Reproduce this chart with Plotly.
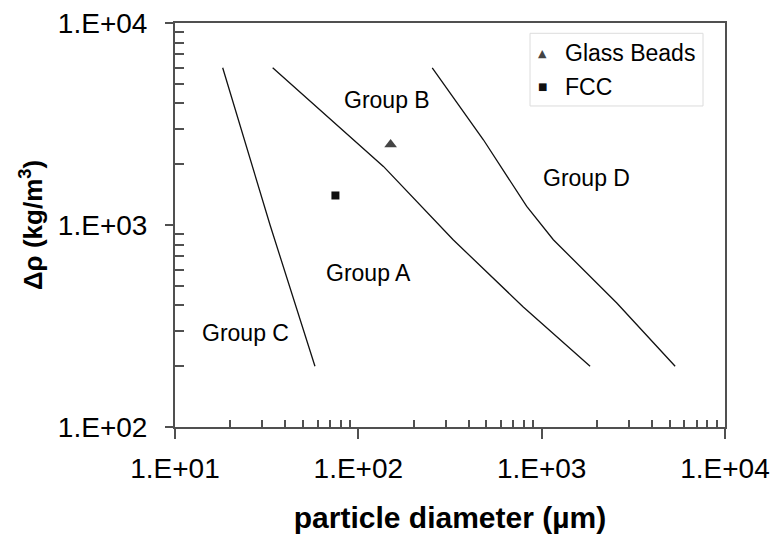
import math
import plotly.graph_objects as go

# Geldart powder classification: boundaries between groups
# (particle diameter in µm, density difference in kg/m3)
c_boundary_dp = [18.2, 33, 58]
c_boundary_rho = [6000, 1000, 200]

ab_boundary_dp = [34.1, 137, 329, 791, 1837]
ab_boundary_rho = [6000, 1950, 845, 394, 200]

bd_boundary_dp = [253, 481, 829, 1158, 2569, 5346]
bd_boundary_rho = [6000, 2642, 1236, 845, 411, 200]

# Measured powders
glass_dp = [150]
glass_rho = [2500]
fcc_dp = [75]
fcc_rho = [1400]

# Region labels
group_names = ["Group A", "Group B", "Group C", "Group D"]
group_dp = [113, 143, 24.1, 1746]
group_rho = [578, 4169, 292, 1710]

x_tickvals = [10, 100, 1000, 10000]
x_ticktext = ["1.E+01", "1.E+02", "1.E+03", "1.E+04"]
y_tickvals = [100, 1000, 10000]
y_ticktext = ["1.E+02", "1.E+03", "1.E+04"]

FONT = "Liberation Sans, Arial, sans-serif"
SYMBOL_FONT = "DejaVu Sans, sans-serif"
AXIS_COLOR = "#505050"
GLASS_COLOR = "#444444"
FCC_COLOR = "#111111"

x_minor = [m * 10 ** d for d in (1, 2, 3) for m in range(2, 10)]
y_minor = [m * 10 ** d for d in (2, 3) for m in range(2, 10)]

fig = go.Figure()

for xs, ys in [(c_boundary_dp, c_boundary_rho),
               (ab_boundary_dp, ab_boundary_rho),
               (bd_boundary_dp, bd_boundary_rho)]:
    fig.add_trace(go.Scatter(x=xs, y=ys, mode="lines",
                             line=dict(color="#111111", width=1.3),
                             showlegend=False, hoverinfo="skip"))

fig.add_trace(go.Scatter(x=glass_dp, y=glass_rho, mode="markers", name="Glass Beads",
                         showlegend=False,
                         marker=dict(symbol="triangle-up", size=11, color=GLASS_COLOR)))
fig.add_trace(go.Scatter(x=fcc_dp, y=fcc_rho, mode="markers", name="FCC",
                         showlegend=False,
                         marker=dict(symbol="square", size=8, color=FCC_COLOR)))

for name, gx, gy in zip(group_names, group_dp, group_rho):
    fig.add_annotation(x=math.log10(gx), y=math.log10(gy), text=name,
                       showarrow=False, xref="x", yref="y",
                       font=dict(family=FONT, size=23, color="#000000"))

# Legend box with symbol glyphs and series names
fig.add_shape(type="rect", xref="paper", yref="paper",
              x0=0.6455, x1=0.96, y0=0.7946, y1=0.9745,
              line=dict(color="#dcdcdc", width=1), fillcolor="white", layer="above")
legend_rows = [("▲", GLASS_COLOR, 11, "Glass Beads", 0.9257),
               ("■", FCC_COLOR, 10, "FCC", 0.8416)]
for glyph, color, gsize, label, ry in legend_rows:
    fig.add_annotation(x=0.669, y=ry, xref="paper", yref="paper", text=glyph,
                       showarrow=False, xanchor="center", yanchor="middle",
                       font=dict(family=SYMBOL_FONT, size=gsize, color=color))
    fig.add_annotation(x=0.7055, y=ry, xref="paper", yref="paper", text=label,
                       showarrow=False, xanchor="left", yanchor="middle",
                       font=dict(family=FONT, size=23, color="#000000"))

fig.update_layout(
    width=774, height=539,
    margin=dict(l=175, r=49, t=23, b=112),
    paper_bgcolor="white", plot_bgcolor="white",
    font=dict(family=FONT, color="#000000"),
    showlegend=False,
    xaxis=dict(
        type="log", range=[1, 4], showgrid=False, zeroline=False, automargin=False,
        showline=True, linecolor=AXIS_COLOR, linewidth=2, mirror=True,
        tickvals=x_tickvals, ticktext=x_ticktext,
        ticks="outside", ticklen=10, tickwidth=2, tickcolor=AXIS_COLOR,
        ticklabelstandoff=5,
        tickfont=dict(family=FONT, size=28, color="#000000"),
        minor=dict(tickvals=x_minor, ticks="inside", ticklen=7, tickwidth=1.5,
                   tickcolor=AXIS_COLOR, showgrid=False),
        title=dict(text="<b>particle diameter (µm)</b>", standoff=24,
                   font=dict(family=FONT, size=30, color="#000000")),
    ),
    yaxis=dict(
        type="log", range=[2, 4], showgrid=False, zeroline=False, automargin=False,
        showline=True, linecolor=AXIS_COLOR, linewidth=2, mirror=True,
        tickvals=y_tickvals, ticktext=y_ticktext,
        ticks="outside", ticklen=8, tickwidth=2, tickcolor=AXIS_COLOR,
        ticklabelstandoff=12,
        tickfont=dict(family=FONT, size=28, color="#000000"),
        minor=dict(tickvals=y_minor, ticks="inside", ticklen=9, tickwidth=1.5,
                   tickcolor=AXIS_COLOR, showgrid=False),
        title=dict(text="<b>Δρ (kg/m<sup>3</sup>)</b>", standoff=8,
                   font=dict(family=FONT, size=26, color="#000000")),
    ),
    # inner halves of the major ticks, so they cross the axis lines
    xaxis2=dict(type="log", range=[1, 4], overlaying="x", anchor="y", side="bottom",
                tickvals=x_tickvals, ticks="inside", ticklen=9, tickwidth=2,
                tickcolor=AXIS_COLOR, showticklabels=False, showgrid=False,
                zeroline=False, showline=False, automargin=False),
    yaxis2=dict(type="log", range=[2, 4], overlaying="y", anchor="x", side="left",
                tickvals=y_tickvals, ticks="inside", ticklen=9, tickwidth=2,
                tickcolor=AXIS_COLOR, showticklabels=False, showgrid=False,
                zeroline=False, showline=False, automargin=False),
)

fig.write_html("out.html")
